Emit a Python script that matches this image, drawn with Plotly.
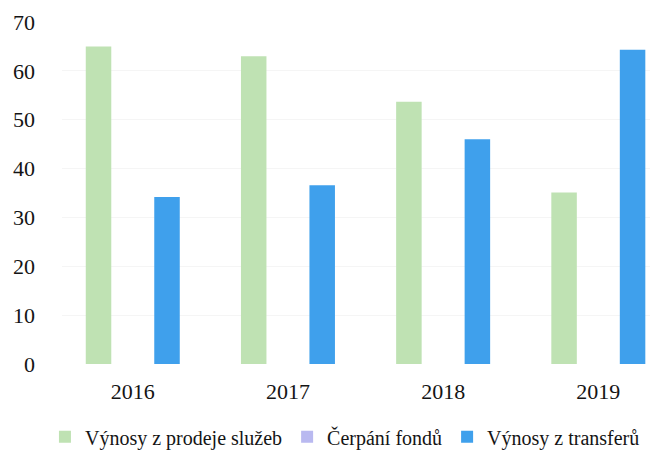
import plotly.graph_objects as go

years = ["2016", "2017", "2018", "2019"]
prodej_sluzeb = [65, 63, 53.7, 35.1]
cerpani_fondu = [0, 0, 0, 0]
transfery = [34.2, 36.6, 46, 64.3]
y_ticks = [0, 10, 20, 30, 40, 50, 60, 70]

fig = go.Figure()
fig.add_trace(go.Bar(x=years, y=prodej_sluzeb, name="Výnosy z prodeje služeb",
                     marker=dict(color="#bfe2b3", line=dict(width=0))))
fig.add_trace(go.Bar(x=years, y=cerpani_fondu, name="Čerpání fondů",
                     marker=dict(color="#b9b9f0", line=dict(width=0))))
fig.add_trace(go.Bar(x=years, y=transfery, name="Výnosy z transferů",
                     marker=dict(color="#3fa0ec", line=dict(width=0))))

# the page body has an 8px margin, so the figure is 8px smaller than the window
fig.update_layout(
    width=655, height=442,
    margin=dict(l=54, r=13, t=14, b=86, autoexpand=False),
    paper_bgcolor="white", plot_bgcolor="white",
    barmode="group", bargap=0.338, bargroupgap=0.255,
    font=dict(family="Liberation Serif", size=22, color="#141414"),
    xaxis=dict(type="category", range=[-0.456, 3.333], showgrid=False,
               showline=False, ticks="", ticklabelstandoff=12,
               tickfont=dict(size=22)),
    yaxis=dict(range=[0, 70], tickvals=y_ticks, showgrid=True,
               gridcolor="#f5f5f5", zeroline=False, showline=False,
               ticks="", ticklabelstandoff=26, tickfont=dict(size=22)),
    legend=dict(orientation="h", x=-0.029, xanchor="left",
                y=-0.213, yanchor="middle",
                font=dict(size=20), itemwidth=30,
                tracegroupgap=0, traceorder="normal"),
    showlegend=True,
)

fig.write_html("out.html")
